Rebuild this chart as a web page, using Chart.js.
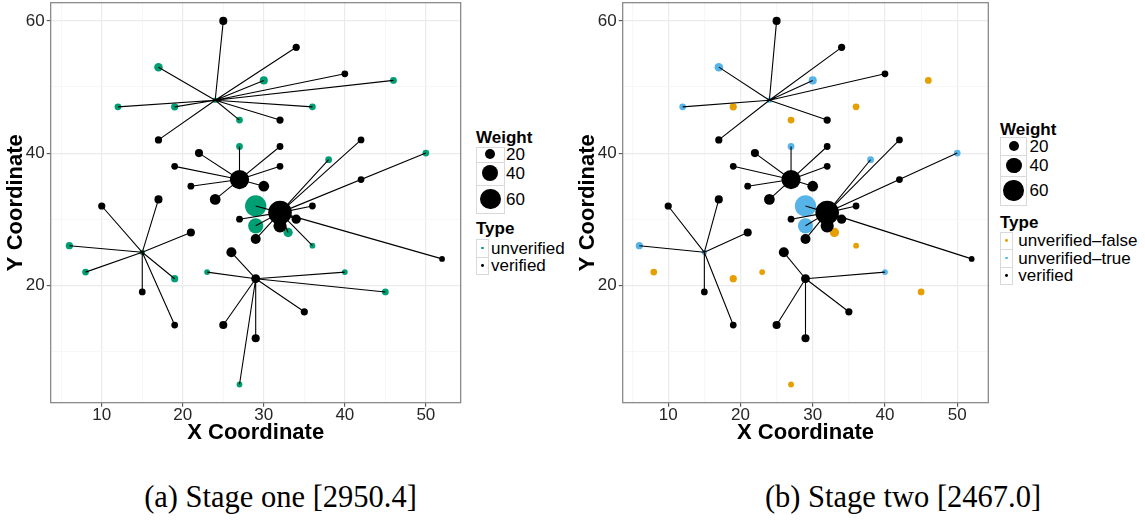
<!DOCTYPE html>
<html>
<head>
<meta charset="utf-8">
<script src="https://cdn.jsdelivr.net/npm/chart.js@4.4.0/dist/chart.umd.min.js"></script>
<style>
html,body{margin:0;padding:0;background:#fff;}
#root{position:relative;width:1145px;height:525px;overflow:hidden;font-family:"Liberation Sans",Arial,sans-serif;}
canvas{position:absolute;top:0;}
.t{position:absolute;white-space:nowrap;color:#000;line-height:17px;font-size:17px;}
.b{font-weight:bold;}
.box{position:absolute;border:1px solid #d9d9d9;box-sizing:border-box;background:#fff;}
.dot{position:absolute;border-radius:50%;}
.cap{position:absolute;white-space:nowrap;font-family:"Liberation Serif","DejaVu Serif",serif;font-size:30.5px;line-height:30px;color:#000;transform:translateX(-50%);}
</style>
</head>
<body>
<div id="root">
  <canvas id="c1" width="465" height="450" style="left:0px"></canvas>
  <canvas id="c2" width="420" height="450" style="left:572px"></canvas>
  <div class="cap" style="left:280.5px;top:482px">(a) Stage one [2950.4]</div>
  <div class="cap" style="left:903px;top:482px">(b) Stage two [2467.0]</div>
</div>
<script>
// ---- data ----
const nodeX = [24,25,17,12,19,27,17,34,30,40,46,36,32, 27,27,22,19,21,24,32,32,30, 32,38,42,50,42,36,29,27,29,32,34,33,29,36,52, 15,10,17,6,8,21,19,15,19, 29,26,23,25,29,27,35,40,45];
const nodeY = [48,60,53,47,47,45,42,56,51,52,51,47,45, 36,41,40,38,35,33,41,38,35, 31,39,42,40,36,32,32,30,29,29,30,28,27,26,24, 25,32,33,26,22,28,21,19,14, 21,25,22,14,12,5,16,22,19];
const nodeWeight = [9,15,16,12,13,12,13,13,15,12,12,12,13, 54,12,15,12,12,22,12,12,22, 76,12,12,12,12,12,64,12,37,30,18,18,20,10,10, 9,13,15,13,12,15,13,12,12, 17,20,10,15,15,10,13,10,12];
const nodeHub = [-1,0,0,0,0,0,0,0,0,0,0,0,0, -1,13,13,13,13,13,13,13,13, -1,22,22,22,22,22,22,22,22,22,22,22,22,22,22, -1,37,37,37,37,37,37,37,37, -1,46,46,46,46,46,46,46,46];
const U='unverified', V='verified', F='unverified-false', T='unverified-true';
const typeStageOne = [U,V,U,U,U,U,V,V,U,V,U,U,V, V,U,V,V,V,V,V,V,V, V,U,V,U,V,V,U,V,U,V,V,U,V,U,V, U,V,V,U,U,V,U,V,V, V,V,U,V,V,U,V,U,U];
const typeStageTwo = [T,V,T,T,F,F,V,V,T,V,F,F,V, V,T,V,V,V,V,V,V,V, V,T,V,T,V,V,T,V,T,V,V,F,V,F,V, T,V,V,T,F,V,F,V,V, V,V,F,V,V,F,V,T,F];
const xTickMajor = [10,20,30,40,50];
const xTickMinor = [5,15,25,35,45];
const yTickMajor = [20,40,60];
const yTickMinor = [10,30,50];
const weightBreaks = [20,40,60];
const typesOne = [U,V];
const typeLabelsOne = ['unverified','verified'];
const typesTwo = [F,T,V];
const typeLabelsTwo = ['unverified\u2013false','unverified\u2013true','verified'];
const typeColors = {'unverified':'#009E73','verified':'#000000','unverified-false':'#E69F00','unverified-true':'#56B4E9'};

// ---- helpers ----
const FONT = "'Liberation Sans', Arial, sans-serif";
Chart.defaults.font.family = FONT;
function diam(w){ return Math.max(2, -4.34 + 3.207*Math.sqrt(w)); }

function edgePoints(types, skip){
  const pts=[];
  for(let i=0;i<nodeX.length;i++){
    const h=nodeHub[i];
    if(h<0 || types[i]===skip) continue;
    pts.push({x:nodeX[h],y:nodeY[h]},{x:nodeX[i],y:nodeY[i]},{x:null,y:null});
  }
  return pts;
}
function typeDataset(types, t, order){
  const data=[], radii=[];
  for(let i=0;i<nodeX.length;i++){
    if(types[i]!==t) continue;
    data.push({x:nodeX[i],y:nodeY[i]});
    radii.push(diam(nodeWeight[i])/2);
  }
  return {label:t, data, pointRadius:radii, pointHoverRadius:radii, pointBackgroundColor:typeColors[t],
          pointBorderColor:typeColors[t], pointBorderWidth:0, pointHoverBorderWidth:0, showLine:false, order};
}
const panelBorder = {
  id:'panelBorder',
  afterDatasetsDraw(chart){
    const {ctx, chartArea:a} = chart;
    ctx.save(); ctx.strokeStyle='#808080'; ctx.lineWidth=1.2;
    ctx.strokeRect(a.left,a.top,a.right-a.left,a.bottom-a.top); ctx.restore();
  }
};
function makeChart(id, types, skip, typeList, padRight){
  const datasets=[{label:'edges', data:edgePoints(types, skip), showLine:true, borderColor:'#000', borderWidth:1.1,
      pointRadius:0, pointHoverRadius:0, pointHitRadius:0, spanGaps:false, order:0}];
  typeList.forEach((t,k)=>{ datasets.push(typeDataset(types, t, t===V?1:2+k)); });
  const isMajX = v => xTickMajor.includes(v);
  const isMajY = v => yTickMajor.includes(v);
  return new Chart(document.getElementById(id), {
    type:'scatter',
    data:{datasets},
    plugins:[panelBorder],
    options:{
      responsive:false, animation:false, devicePixelRatio:1,
      layout:{autoPadding:false, padding:{left:0, top:2.7, right:padRight, bottom:0}},
      plugins:{legend:{display:false}, tooltip:{enabled:false}},
      events:[],
      scales:{
        x:{type:'linear', min:3.7, max:54.3,
          afterBuildTicks: s => { s.ticks = xTickMinor.concat(xTickMajor).sort((a,b)=>a-b).map(v=>({value:v})); },
          afterFit: s => { s.height = 47.3; s.paddingLeft=0; s.paddingRight=0; s.paddingTop=0; s.paddingBottom=0; },
          ticks:{autoSkip:false, maxRotation:0, padding:0, color:'#262626', font:{size:17, lineHeight:1},
            callback: v => isMajX(v) ? String(v) : ''},
          grid:{color: c => (c.tick && isMajX(c.tick.value)) ? '#EBEBEB' : '#F5F5F5',
                lineWidth: c => (c.tick && isMajX(c.tick.value)) ? 1.2 : 0.8,
                tickColor: c => (c.tick && isMajX(c.tick.value)) ? '#555555' : 'rgba(0,0,0,0)',
                tickLength:4, tickWidth:1.1, drawTicks:true},
          border:{display:false},
          title:{display:true, text:'X Coordinate', color:'#000', font:{size:22, weight:'bold', lineHeight:1.2}, padding:{top:0,bottom:4.3}}
        },
        y:{type:'linear', min:2.25, max:62.75,
          afterBuildTicks: s => { s.ticks = yTickMinor.concat(yTickMajor).sort((a,b)=>a-b).map(v=>({value:v})); },
          afterFit: s => { s.width = 50.7; s.paddingLeft=0; s.paddingRight=0; s.paddingTop=0; s.paddingBottom=0; },
          ticks:{autoSkip:false, padding:2, color:'#262626', font:{size:17},
            callback: v => isMajY(v) ? String(v) : ''},
          grid:{color: c => (c.tick && isMajY(c.tick.value)) ? '#EBEBEB' : '#F5F5F5',
                lineWidth: c => (c.tick && isMajY(c.tick.value)) ? 1.2 : 0.8,
                tickColor: c => (c.tick && isMajY(c.tick.value)) ? '#555555' : 'rgba(0,0,0,0)',
                tickLength:4, tickWidth:1.1, drawTicks:true},
          border:{display:false},
          title:{display:true, text:'Y Coordinate', color:'#000', font:{size:22, weight:'bold', lineHeight:1.2}, padding:{top:2.3,bottom:0}}
        }
      }
    }
  });
}
makeChart('c1', typeStageOne, null, typesOne, 4.3);
makeChart('c2', typeStageTwo, F, typesTwo, 3.7);

// ---- legends (HTML) ----
const root = document.getElementById('root');
function el(cls, css, text){ const d=document.createElement('div'); d.className=cls; Object.assign(d.style, css); if(text!==undefined) d.textContent=text; root.appendChild(d); return d; }
function legend(cfg, types, labels){
  el('t b', {left:cfg.x+'px', top:(cfg.wTitle-2.2)+'px'}, 'Weight');
  weightBreaks.forEach((w,i)=>{
    const [y0,y1]=cfg.wRows[i];
    el('box', {left:cfg.x+'px', top:y0+'px', width:cfg.wBox+'px', height:(y1-y0+1)+'px'});
    const d=diam(w);
    el('dot', {left:(cfg.x+cfg.wBox/2-d/2)+'px', top:((y0+y1)/2-d/2)+'px', width:d+'px', height:d+'px', background:'#000'});
    el('t', {left:cfg.wLab+'px', top:((y0+y1)/2-8.5)+'px'}, String(w));
  });
  el('t b', {left:cfg.x+'px', top:(cfg.tTitle-2.2)+'px'}, 'Type');
  types.forEach((t,i)=>{
    const [y0,y1]=cfg.tRows[i];
    el('box', {left:cfg.x+'px', top:y0+'px', width:cfg.tBox+'px', height:(y1-y0+1)+'px'});
    el('dot', {left:(cfg.x+cfg.tBox/2-1.4)+'px', top:((y0+y1)/2-1.4)+'px', width:'2.8px', height:'2.8px', background:typeColors[t]});
    el('t', {left:cfg.tLab+'px', top:((y0+y1)/2-8.5)+'px'}, labels[i]);
  });
}
legend({x:476, wTitle:131, wRows:[[147.3,161.7],[161.7,185],[185,213.3]], wBox:28.6, wLab:506,
        tTitle:222, tRows:[[239.3,256.8],[256.8,274.3]], tBox:13, tLab:491}, typesOne, typeLabelsOne);
legend({x:1000, wTitle:123.3, wRows:[[137.3,155],[155,176],[176,205]], wBox:27.3, wLab:1029.5,
        tTitle:216, tRows:[[231.8,249.3],[249.3,266.8],[266.8,284.3]], tBox:13.3, tLab:1018.3}, typesTwo, typeLabelsTwo);
</script>
</body>
</html>
